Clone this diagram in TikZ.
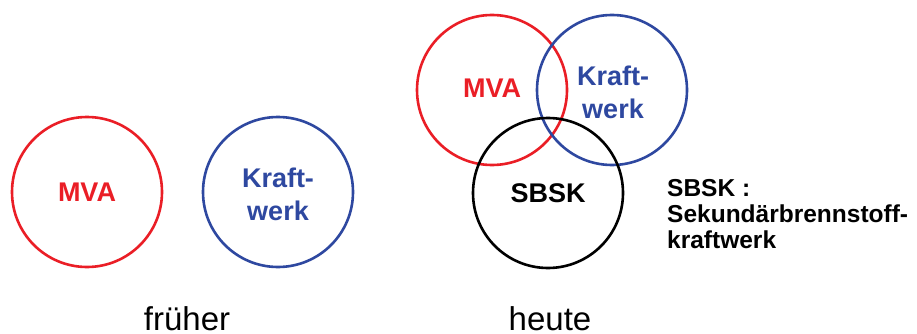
\documentclass[tikz,border=0pt]{standalone}
\usepackage{fontspec}
\setmainfont{Liberation Sans}
\definecolor{mvared}{RGB}{234,30,38}
\definecolor{kwblue}{RGB}{46,72,160}
\begin{document}
\begin{tikzpicture}[x=1pt,y=-1pt,
  ring/.style={draw=#1,line width=2.6pt,circle,minimum size=150pt,inner sep=0pt},
  lbl/.style={text=#1,font=\bfseries\fontsize{27}{33}\selectfont,align=center,inner sep=0pt},
  caption/.style={font=\fontsize{33}{36}\selectfont,inner sep=0pt,anchor=base},
  legend/.style={font=\bfseries\fontsize{24.5}{26}\selectfont,align=left,inner sep=0pt,anchor=north west}]
\useasboundingbox (0,0) rectangle (917,334);
% frueher
\node[ring=mvared] (mvaL) at (87,192) {};
\node[ring=kwblue] (kwL) at (278,192) {};
\node[lbl=mvared] (mvaLt) at (87,192) {MVA};
\node[lbl=kwblue] (kwLt) at (278,194) {Kraft-\\werk};
\node[caption] (frueher) at (187,330) {früher};
% heute
\node[ring=mvared] (mvaR) at (492,90) {};
\node[ring=kwblue] (kwR) at (612,90) {};
\node[ring=black] (sbsk) at (548,193) {};
\node[lbl=mvared] (mvaRt) at (492,88) {MVA};
\node[lbl=kwblue] (kwRt) at (613,92) {Kraft-\\werk};
\node[lbl=black] (sbskt) at (548,193) {SBSK};
\node[caption] (heute) at (550,330) {heute};
\node[legend] (leg) at (667,179) {SBSK :\\Sekundärbrennstoff-\\kraftwerk};
\end{tikzpicture}
\end{document}
